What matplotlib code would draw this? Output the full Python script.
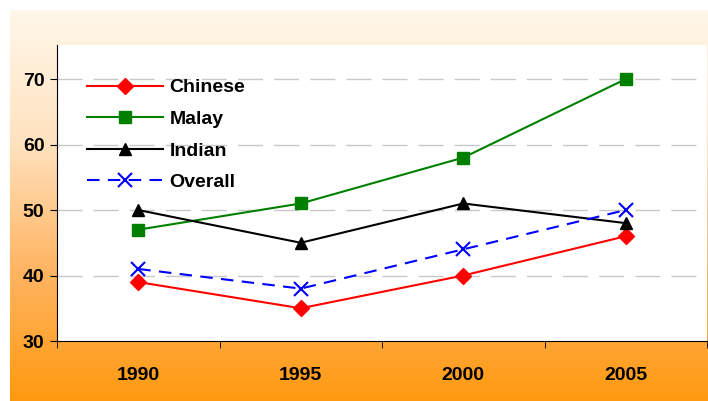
import matplotlib
matplotlib.use("Agg")
import matplotlib.pyplot as plt
import numpy as np
from matplotlib.colors import LinearSegmentedColormap

# data
years = ["1990", "1995", "2000", "2005"]
chinese = [39, 35, 40, 46]
malay = [47, 51, 58, 70]
indian = [50, 45, 51, 48]
overall = [41, 38, 44, 50]
y_ticks = [30, 40, 50, 60, 70]

plt.rcParams['font.family'] = ['Liberation Sans', 'DejaVu Sans']

fig = plt.figure(figsize=(7.08, 4.01), dpi=100)
fig.patch.set_facecolor('white')

# gradient background
W, H = 708, 401
bg = fig.add_axes([10 / W, 0, (W - 10) / W, (H - 10) / H], zorder=0)
cmap = LinearSegmentedColormap.from_list(
    "bg", ["#FFF7EA", "#FFE3C0", "#FFB462", "#FF9A10"])
grad = np.linspace(0, 1, 256).reshape(-1, 1)
bg.imshow(grad, aspect='auto', cmap=cmap, extent=[0, 1, 0, 1])
bg.axis('off')

ax = fig.add_axes([57 / W, (H - 341) / H, (707 - 57) / W, (341 - 45) / H], zorder=1)
ax.set_facecolor('white')

x = np.arange(len(years))
ax.plot(x, chinese, color='#FF0000', lw=1.5, marker='D', ms=8, label='Chinese')
ax.plot(x, malay, color='#008000', lw=1.5, marker='s', ms=8, label='Malay')
ax.plot(x, indian, color='black', lw=1.5, marker='^', ms=9, label='Indian')
ax.plot(x, overall, color='#0000FF', lw=1.5, ls=(0, (6, 4)), marker='x', ms=10,
        mew=1.5, label='Overall')

ax.set_xlim(-0.5, 3.5)
ax.set_ylim(30, 75.2)
ax.set_yticks(y_ticks)
ax.set_yticklabels([str(t) for t in y_ticks], fontsize=14, fontweight='bold')
ax.set_xticks(x)
ax.set_xticklabels(years, fontsize=14, fontweight='bold')
ax.set_xticks(np.arange(-0.5, 4, 1), minor=True)
ax.tick_params(axis='x', which='major', length=0, pad=19)
ax.tick_params(axis='x', which='minor', length=5, direction='out')
ax.tick_params(axis='y', length=5, direction='out', pad=4)

for yv in y_ticks[1:]:
    ax.axhline(yv, color='#C8C8C8', lw=1, ls=(0, (18, 8)), zorder=0)

ax.spines['top'].set_visible(False)
ax.spines['right'].set_visible(False)

leg = ax.legend(loc='upper left', bbox_to_anchor=(0.019, 0.945), frameon=False,
                handlelength=3.9, handletextpad=0.35, labelspacing=0.72,
                prop={'weight': 'bold', 'size': 14})

fig.savefig("out.png", dpi=100, facecolor=fig.get_facecolor())
